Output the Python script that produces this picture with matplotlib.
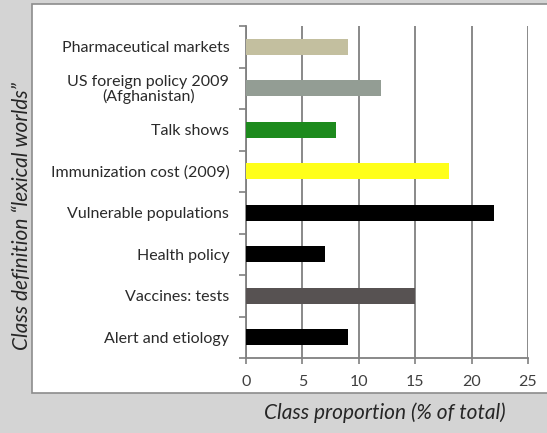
import matplotlib
matplotlib.use('Agg')
import matplotlib.pyplot as plt
from matplotlib.patches import Rectangle

# categories listed top to bottom
categories = ['Pharmaceutical markets', 'US foreign policy 2009\n(Afghanistan)', 'Talk shows',
              'Immunization cost (2009)', 'Vulnerable populations', 'Health policy',
              'Vaccines: tests', 'Alert and etiology']
valores = [9, 12, 8, 18, 22, 7, 15, 9]
colores = ['#c3bf9f', '#939d94', '#1d8a1d', '#ffff1a', '#000000', '#000000', '#575252', '#000000']
xticks = [0, 5, 10, 15, 20, 25]

plt.rcParams['font.family'] = ['Lato', 'DejaVu Sans']
fig = plt.figure(figsize=(5.47, 4.33), dpi=100)
fig.patch.set_facecolor('#d4d4d4')

# white panel behind the chart
panel = Rectangle((32 / 547, 1 - 393 / 433), 1.0, 389 / 433, transform=fig.transFigure,
                  facecolor='white', edgecolor='#8c8c8c', linewidth=1.2, zorder=-1)
fig.patches.append(panel)

ax = fig.add_axes([246 / 547, 1 - 358 / 433, (528 - 246) / 547, 332 / 433])
ax.set_facecolor('white')

n = len(categories)
pos = list(range(n))[::-1]
ax.barh(pos, valores, height=0.39, color=colores, zorder=3)

ax.set_xlim(0, 25)
ax.set_ylim(-0.5, n - 0.5)
ax.set_xticks(xticks)
ax.set_xticklabels([str(t) for t in xticks], color='#404040', fontsize=11.5)
ax.set_yticks(pos)
ax.set_yticklabels(categories, color='#2a2a2a', fontsize=11.5, linespacing=1.0)
for lbl in ax.get_yticklabels():
    lbl.set_multialignment('center')
ax.tick_params(axis='y', length=0, pad=12)
ax.tick_params(axis='x', length=4, color='#808080', width=1.2, pad=8)

# small ticks between categories on the left spine
ax.set_yticks([p + 0.5 for p in range(-1, n)], minor=True)
ax.tick_params(axis='y', which='minor', length=5, color='#808080', width=1.2)

ax.grid(axis='x', color='#808080', linewidth=1.3, zorder=0)
for s in ['top', 'right']:
    ax.spines[s].set_visible(False)
for s in ['left', 'bottom']:
    ax.spines[s].set_color('#808080')
    ax.spines[s].set_linewidth(1.3)

fig.text(385 / 547, 1 - 413 / 433, 'Class proportion (% of total)', ha='center', va='center',
         style='italic', fontsize=15, color='#262626')
fig.text(22 / 547, 1 - 216 / 433, 'Class definition \u201clexical worlds\u201d', ha='center', va='center',
         rotation=90, style='italic', fontsize=15, color='#262626')

fig.savefig('out.png', dpi=100, facecolor=fig.get_facecolor())
